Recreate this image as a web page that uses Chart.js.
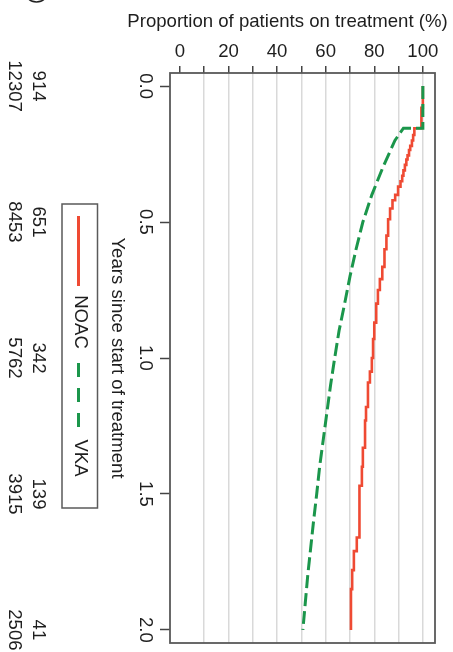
<!DOCTYPE html>
<html>
<head>
<meta charset="utf-8">
<style>
  html, body { margin: 0; padding: 0; background: #ffffff; }
  #c { display: block; }
</style>
<script src="https://cdn.jsdelivr.net/npm/chart.js@4.4.1/dist/chart.umd.min.js"></script>
</head>
<body>
<canvas id="c" width="453" height="652"></canvas>
<script>
// ---- data ----
const noacYears = [0, 0.08, 0.155, 0.18, 0.20, 0.22, 0.235, 0.255, 0.27, 0.29, 0.31, 0.33, 0.35, 0.37, 0.40, 0.42, 0.45, 0.49, 0.55, 0.60, 0.665, 0.71, 0.75, 0.80, 0.87, 0.93, 1.00, 1.05, 1.09, 1.18, 1.23, 1.33, 1.40, 1.47, 1.66, 1.71, 1.78, 1.85, 2.00];
const noacPct   = [100, 99.4, 96.5, 96.0, 95.5, 94.8, 94.3, 93.7, 93.2, 92.6, 92.0, 91.5, 90.8, 89.8, 88.6, 87.5, 86.5, 85.7, 85.0, 84.2, 83.3, 82.3, 81.5, 80.8, 80.0, 79.5, 79.0, 78.2, 77.4, 76.6, 76.2, 75.3, 74.9, 73.9, 72.8, 71.6, 70.9, 70.4, 70.4];

const vkaYears = [0, 0.155, 0.155, 0.20, 0.25, 0.30, 0.40, 0.50, 0.60, 0.70, 0.80, 0.90, 1.00, 1.10, 1.20, 1.30, 1.40, 1.50, 1.60, 1.70, 1.80, 1.90, 2.00];
const vkaPct   = [100, 100, 92.0, 88.5, 86.0, 83.5, 79.0, 75.3, 72.5, 70.0, 67.8, 65.5, 63.7, 62.0, 60.5, 59.0, 57.5, 56.3, 55.0, 53.8, 52.6, 51.6, 50.6];

const seriesNames = ['NOAC', 'VKA'];
const xTickLabels = ['0', '20', '40', '60', '80', '100'];
const yTickLabels = ['0.0', '0.5', '1.0', '1.5', '2.0'];
const riskTimes = [0, 0.5, 1.0, 1.5, 2.0];
const riskNOAC = [914, 651, 342, 139, 41];
const riskVKA = [12307, 8453, 5762, 3915, 2506];
const xTitle = 'Proportion of patients on treatment (%)';
const yTitle = 'Years since start of treatment';
const panelLabel = '(c)';

// ---- styling ----
const RED = '#ef4a33';
const GREEN = '#1b964b';
const FAMILY = '"Liberation Sans", Arial, Helvetica, sans-serif';
const FONT = '18.6px ' + FAMILY;
const TEXT = '#1e1e1e';

function pts(ys, xs) { return ys.map((y, i) => ({ x: xs[i], y: y })); }

const textPlugin = {
  id: 'rotatedTexts',
  afterDraw(chart) {
    const ctx = chart.ctx;
    const ys = chart.scales.y;
    const ca = chart.chartArea;
    ctx.save();
    // plot frame
    ctx.strokeStyle = '#595959';
    ctx.lineWidth = 1.8;
    ctx.strokeRect(ca.left, ca.top, ca.right - ca.left, ca.bottom - ca.top);

    ctx.fillStyle = TEXT;
    ctx.font = FONT;
    ctx.textAlign = 'center';
    ctx.textBaseline = 'middle';
    ctx.fillText(xTitle, 287.5, 22);

    function rot(text, x, y) {
      ctx.save();
      ctx.translate(x, y);
      ctx.rotate(Math.PI / 2);
      ctx.textAlign = 'center';
      ctx.textBaseline = 'middle';
      ctx.fillText(text, 0, 0);
      ctx.restore();
    }
    // y tick labels
    yTickLabels.forEach((lbl) => rot(lbl, 145, ys.getPixelForValue(parseFloat(lbl))));
    // y axis title
    rot(yTitle, 117.5, (ca.top + ca.bottom) / 2);
    // numbers at risk
    riskTimes.forEach((t, i) => {
      const py = ys.getPixelForValue(t);
      rot(String(riskNOAC[i]), 38, py);
      rot(String(riskVKA[i]), 14, py);
    });
    // panel label (mostly cut off at top)
    rot(panelLabel, 37, -7);

    // legend
    ctx.strokeStyle = '#5a5a5a';
    ctx.lineWidth = 1.5;
    ctx.strokeRect(62, 204, 35.5, 304);
    ctx.lineCap = 'butt';
    ctx.strokeStyle = RED;
    ctx.lineWidth = 3;
    ctx.beginPath(); ctx.moveTo(78.5, 216); ctx.lineTo(78.5, 286); ctx.stroke();
    rot(seriesNames[0], 80.5, 322);
    ctx.strokeStyle = GREEN;
    ctx.setLineDash([14, 11]);
    ctx.beginPath(); ctx.moveTo(78.5, 363); ctx.lineTo(78.5, 433); ctx.stroke();
    ctx.setLineDash([]);
    rot(seriesNames[1], 80.5, 458);
    ctx.restore();
  }
};

new Chart(document.getElementById('c'), {
  type: 'scatter',
  data: {
    datasets: [
      {
        label: seriesNames[0],
        data: pts(noacYears, noacPct),
        showLine: true,
        stepped: 'after',
        borderColor: RED,
        backgroundColor: RED,
        borderWidth: 2.6,
        pointRadius: 0,
        fill: false,
        order: 1
      },
      {
        label: seriesNames[1],
        data: pts(vkaYears, vkaPct),
        showLine: true,
        borderColor: GREEN,
        backgroundColor: GREEN,
        borderWidth: 3,
        borderDash: [13, 5],
        pointRadius: 0,
        fill: false,
        order: 0
      }
    ]
  },
  options: {
    responsive: false,
    animation: false,
    devicePixelRatio: 1,
    layout: { padding: { left: 0, right: 18, top: 0, bottom: 9 } },
    plugins: { legend: { display: false }, tooltip: { enabled: false }, title: { display: false } },
    scales: {
      x: {
        type: 'linear',
        position: 'top',
        min: -4.1,
        max: 105,
        afterFit(scale) { scale.height = 73; },
        border: { display: false },
        grid: {
          color: (c) => (c.tick && c.tick.value === 0) ? 'rgba(0,0,0,0)' : '#d9d9d9',
          lineWidth: 1.5,
          tickColor: '#444444',
          tickLength: 7,
          tickWidth: 1.5
        },
        ticks: {
          stepSize: 10,
          includeBounds: false,
          padding: 3,
          color: TEXT,
          font: { family: FAMILY, size: 18.6 },
          maxRotation: 0,
          autoSkip: false,
          callback: (v) => {
            const idx = xTickLabels.indexOf(String(v));
            return idx >= 0 ? xTickLabels[idx] : '';
          }
        }
      },
      y: {
        type: 'linear',
        position: 'left',
        reverse: true,
        min: -0.048,
        max: 2.048,
        afterFit(scale) { scale.width = 170; },
        border: { display: false },
        grid: {
          drawOnChartArea: false,
          tickColor: '#444444',
          tickLength: 10,
          tickWidth: 1.5
        },
        ticks: {
          stepSize: 0.5,
          includeBounds: false,
          display: false
        }
      }
    }
  },
  plugins: [textPlugin]
});
</script>
</body>
</html>
